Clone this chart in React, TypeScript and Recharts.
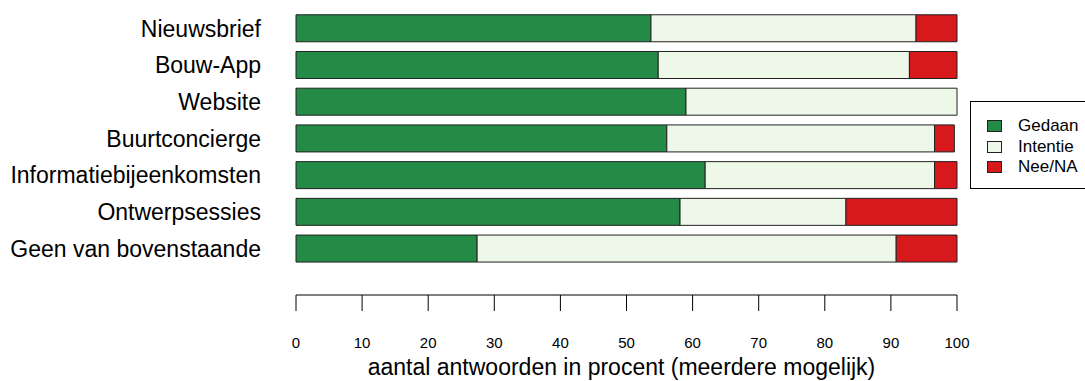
import { BarChart, Bar, XAxis, YAxis } from "recharts";

const categories = [
  "Nieuwsbrief",
  "Bouw-App",
  "Website",
  "Buurtconcierge",
  "Informatiebijeenkomsten",
  "Ontwerpsessies",
  "Geen van bovenstaande",
];
const gedaan = [53.7, 54.8, 59.0, 56.1, 61.9, 58.1, 27.4];
const intentie = [40.1, 38.0, 41.0, 40.5, 34.7, 25.1, 63.4];
const neeNA = [6.2, 7.2, 0, 3.0, 3.4, 16.8, 9.2];
const xTicks = [0, 10, 20, 30, 40, 50, 60, 70, 80, 90, 100];

const series = [
  { key: "gedaan", label: "Gedaan", color: "#238B45" },
  { key: "intentie", label: "Intentie", color: "#EDF8E9" },
  { key: "neeNA", label: "Nee/NA", color: "#D7191C" },
];

const data = categories.map((name, i) => ({
  name,
  gedaan: gedaan[i],
  intentie: intentie[i],
  neeNA: neeNA[i],
}));

const font = "'Liberation Sans', Arial, sans-serif";

function LegendBox() {
  return (
    <div
      style={{
        position: "absolute",
        left: 970,
        top: 101,
        width: 140,
        height: 88,
        border: "1px solid #000",
        boxSizing: "border-box",
        background: "#fff",
      }}
    >
      {series.map((s, i) => (
        <div
          key={s.key}
          style={{
            position: "absolute",
            left: 16,
            top: 14 + i * 20.5,
            height: 20,
            display: "flex",
            alignItems: "center",
            fontSize: 17,
            color: "#000",
            whiteSpace: "nowrap",
          }}
        >
          <span
            style={{
              display: "inline-block",
              width: 13,
              height: 10,
              background: s.color,
              border: "1px solid #222",
              marginRight: 16,
            }}
          />
          {s.label}
        </div>
      ))}
    </div>
  );
}

export default function App() {
  return (
    <div
      style={{
        position: "absolute",
        left: 0,
        top: 0,
        width: 1085,
        height: 381,
        background: "#fff",
        fontFamily: font,
        overflow: "hidden",
      }}
    >
      <BarChart
        width={1085}
        height={381}
        data={data}
        layout="vertical"
        margin={{ top: 10, right: 128, left: 0, bottom: 0 }}
        barCategoryGap="13%"
      >
        <XAxis
          type="number"
          domain={[0, 100]}
          ticks={xTicks}
          interval={0}
          height={86}
          tickSize={16}
          tickMargin={26}
          axisLine={{ stroke: "#000" }}
          tickLine={{ stroke: "#000" }}
          tick={{ fontSize: 15, fill: "#000", fontFamily: font }}
          label={{
            value: "aantal antwoorden in procent (meerdere mogelijk)",
            position: "insideBottom",
            offset: 6,
            dx: -5,
            fontSize: 23,
            fill: "#000",
            fontFamily: font,
          }}
        />
        <YAxis
          type="category"
          dataKey="name"
          width={296}
          padding={{ top: 0, bottom: 28 }}
          axisLine={false}
          tickLine={false}
          tickSize={0}
          tickMargin={35}
          interval={0}
          tick={{ fontSize: 23, fill: "#000", fontFamily: font }}
        />
        {series.map((s) => (
          <Bar
            key={s.key}
            dataKey={s.key}
            stackId="a"
            fill={s.color}
            stroke="#222"
            strokeWidth={1}
            isAnimationActive={false}
          />
        ))}
      </BarChart>
      <LegendBox />
    </div>
  );
}
